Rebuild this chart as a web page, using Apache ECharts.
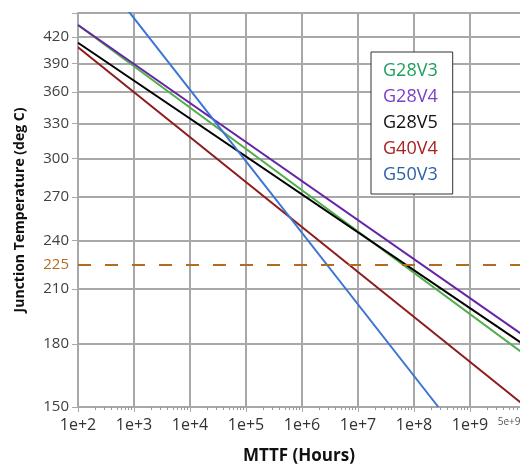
<!DOCTYPE html>
<html><head><meta charset="utf-8">
<script src="https://cdn.jsdelivr.net/npm/echarts@6/dist/echarts.min.js"></script>
<style>html,body{margin:0;padding:0;background:#fff}#c{width:520px;height:464px}</style>
</head><body><div id="c"></div>
<script>
// ---- data (MTTF in hours, junction temperature in deg C) ----
const seriesNames = ['G28V3', 'G28V4', 'G28V5', 'G40V4', 'G50V3'];
const mttfG28V3 = [1e2, 1e10];    const tempG28V3 = [434.7, 174.3];
const mttfG28V4 = [1e2, 1e10];    const tempG28V4 = [434.7, 183.6];
const mttfG28V5 = [1e2, 1e10];    const tempG28V5 = [413.3, 179.0];
const mttfG40V4 = [1e2, 1e10];    const tempG40V4 = [408.0, 150.1];
const mttfG50V3 = [1e2, 2.72e8];  const tempG50V3 = [548.0, 150.0];
const yTickTemps = [150, 180, 210, 240, 270, 300, 330, 360, 390, 420];
const yTopTemp = 450;
const limitTemp = 225;
const xDecadeExps = [2, 3, 4, 5, 6, 7, 8, 9];
const xEndLabel = 5e9;
const xVisibleMax = 7.82e9;

// ---- scales: log10 for MTTF, Arrhenius 1/T for temperature ----
const toX = m => Math.log10(m);
const toY = t => 1000 / (t + 273.15);
const fromY = v => Math.round(1000 / v - 273.15);

const lineColors = ['#4fae4a', '#6424a8', '#000000', '#8e1b1b', '#3a74d6'];
const textColors = ['#1f9e5c', '#7b3fc8', '#111111', '#a82222', '#2c5fa8'];
const mttfs = [mttfG28V3, mttfG28V4, mttfG28V5, mttfG40V4, mttfG50V3];
const temps = [tempG28V3, tempG28V4, tempG28V5, tempG40V4, tempG50V3];

const FONT = 'Open Sans';
const GRID = '#a8a8a8';

const minorTicks = [];
for (const d of xDecadeExps) for (let k = 2; k <= 9; k++) minorTicks.push(d + Math.log10(k));

const series = seriesNames.map((n, i) => ({
  name: n, type: 'line', showSymbol: false, symbol: 'none',
  lineStyle: { color: lineColors[i], width: 2 }, itemStyle: { color: lineColors[i] },
  data: mttfs[i].map((m, j) => [toX(m), toY(temps[i][j])]),
  z: 3
}));
series[0].markLine = {
  silent: true, symbol: 'none', animation: false,
  lineStyle: { color: '#b36b22', type: [13, 14], width: 2 },
  label: { position: 'start', formatter: String(limitTemp), color: '#b36b22', fontSize: 15, fontFamily: FONT, distance: 9 },
  data: [{ yAxis: toY(limitTemp) }]
};

const chart = echarts.init(document.getElementById('c'), null, { renderer: 'canvas' });
chart.setOption({
  animation: false,
  backgroundColor: '#fff',
  grid: { left: 78, top: 13, right: 0, bottom: 57, containLabel: false, outerBoundsMode: 'none' },
  legend: {
    orient: 'vertical', left: 371, top: 52,
    icon: 'none', itemWidth: 0, itemHeight: 18, itemGap: 8,
    padding: [10, 15, 10, 7],
    backgroundColor: '#fff', borderColor: '#333', borderWidth: 1,
    selectedMode: false,
    textStyle: { fontSize: 18, fontFamily: FONT },
    data: seriesNames.map((n, i) => ({ name: n, textStyle: { color: textColors[i] } }))
  },
  xAxis: [{
    type: 'value', min: 2, max: toX(xVisibleMax), position: 'bottom',
    name: 'MTTF (Hours)', nameLocation: 'middle', nameGap: 41,
    nameTextStyle: { fontFamily: FONT, fontWeight: 'bold', fontSize: 17, color: '#111' },
    axisLine: { show: true, onZero: false, lineStyle: { color: GRID, width: 2 } },
    axisTick: { show: true, length: 5, customValues: xDecadeExps, lineStyle: { color: GRID, width: 1 } },
    axisLabel: {
      customValues: xDecadeExps.concat([toX(xEndLabel)]),
      formatter: v => Number.isInteger(v) ? '1e+' + v : '{s|5e+9}',
      color: '#333', fontSize: 16, fontFamily: FONT, margin: 10,
      rich: { s: { fontSize: 10, color: '#555', fontFamily: FONT, padding: [0, 0, 8, 0] } }
    },
    splitLine: { show: true, lineStyle: { color: GRID, width: 2 } }
  }, {
    type: 'value', min: 2, max: toX(xVisibleMax), position: 'bottom', offset: 0,
    axisLine: { show: false },
    axisTick: { show: true, length: 3, customValues: minorTicks, lineStyle: { color: '#999', width: 1 } },
    axisLabel: { show: false },
    splitLine: { show: false }
  }],
  yAxis: {
    type: 'value', inverse: true, min: toY(yTopTemp), max: toY(yTickTemps[0]),
    name: 'Junction Temperature (deg C)', nameLocation: 'middle', nameGap: 51,
    nameTextStyle: { fontFamily: FONT, fontWeight: 'bold', fontSize: 14, color: '#111' },
    axisLine: { show: true, lineStyle: { color: GRID, width: 2 } },
    axisTick: { show: true, length: 6, customValues: yTickTemps.concat([yTopTemp]).map(toY), lineStyle: { color: GRID, width: 1 } },
    axisLabel: {
      customValues: yTickTemps.map(toY), formatter: v => String(fromY(v)),
      color: '#404040', fontSize: 15, fontFamily: FONT, margin: 9
    },
    splitLine: { show: true, lineStyle: { color: GRID, width: 2 } }
  },
  series
});
</script></body></html>
